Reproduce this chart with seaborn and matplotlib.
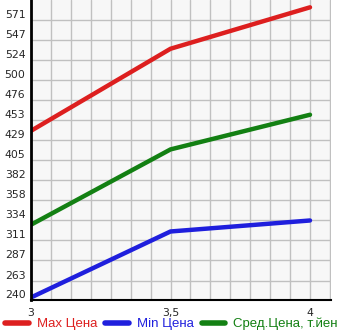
import matplotlib
matplotlib.use("Agg")
import matplotlib.pyplot as plt
import seaborn as sns
import pandas as pd
import numpy as np

x_vals = [3.0, 3.5, 4.0]
max_price = [440, 537, 586]
min_price = [243, 321, 334]
avg_price = [329, 418, 459]
series_names = ["Max Цена", "Min Цена", "Сред.Цена, т.йен"]
colors = ["#dd1f1f", "#1f1fdd", "#138013"]
y_ticks = [240, 263, 287, 311, 334, 358, 382, 405, 429, 453, 476, 500, 524, 547, 571]
x_ticks = [3, 3.5, 4]
x_tick_labels = ["3", "3,5", "4"]

df = pd.DataFrame({
    "x": x_vals * 3,
    "y": max_price + min_price + avg_price,
    "s": [series_names[0]] * 3 + [series_names[1]] * 3 + [series_names[2]] * 3,
})

sns.set_style("white")
plt.rcParams['font.family'] = ['DejaVu Sans']
fig = plt.figure(figsize=(3.45, 3.35), dpi=100)
ax = fig.add_axes([31/345, 35/335, 299.5/345, 300/335])
ax.set_facecolor("#f7f7f7")

sns.lineplot(data=df, x="x", y="y", hue="s", palette=colors, linewidth=3.2,
             ax=ax, legend=False, solid_capstyle="round")

step_y = (571 - 240) / 14
ax.set_ylim(240, 571 + step_y)
ax.set_xlim(3, 4 + 20.5/279)
ax.set_yticks(y_ticks)
ax.set_yticklabels([str(v) for v in y_ticks], fontsize=7.8)
ax.set_xticks(x_ticks)
ax.set_xticklabels(x_tick_labels, fontsize=7.8)
ax.set_xticks(np.arange(3, 4.08, 1/14), minor=True)
ax.grid(True, which="both", color="#c0c0c0", linewidth=1)
ax.set_axisbelow(True)
ax.tick_params(axis="x", which="both", length=4, width=1, direction="out", pad=2)
ax.tick_params(axis="y", length=3, width=1, direction="out", pad=1)
for lab in ax.get_yticklabels():
    lab.set_verticalalignment("bottom")
ax.set_xlabel("")
ax.set_ylabel("")
ax.spines["top"].set_visible(False)
ax.spines["right"].set_visible(False)
ax.spines["left"].set_linewidth(2)
ax.spines["bottom"].set_linewidth(1.5)
ax.spines["left"].set_color("black")
ax.spines["bottom"].set_color("black")

handles = [plt.Line2D([], [], color=c, linewidth=4, solid_capstyle="round") for c in colors]
leg = fig.legend(handles, series_names, loc="lower left", bbox_to_anchor=(-0.008, -0.01),
                 ncol=3, frameon=False, prop={"family": "Liberation Sans", "size": 9.5},
                 handlelength=1.8, handletextpad=0.6, columnspacing=0.6, borderaxespad=0.2)
for t, c in zip(leg.get_texts(), colors):
    t.set_color(c)

fig.savefig("out.png", dpi=100)
